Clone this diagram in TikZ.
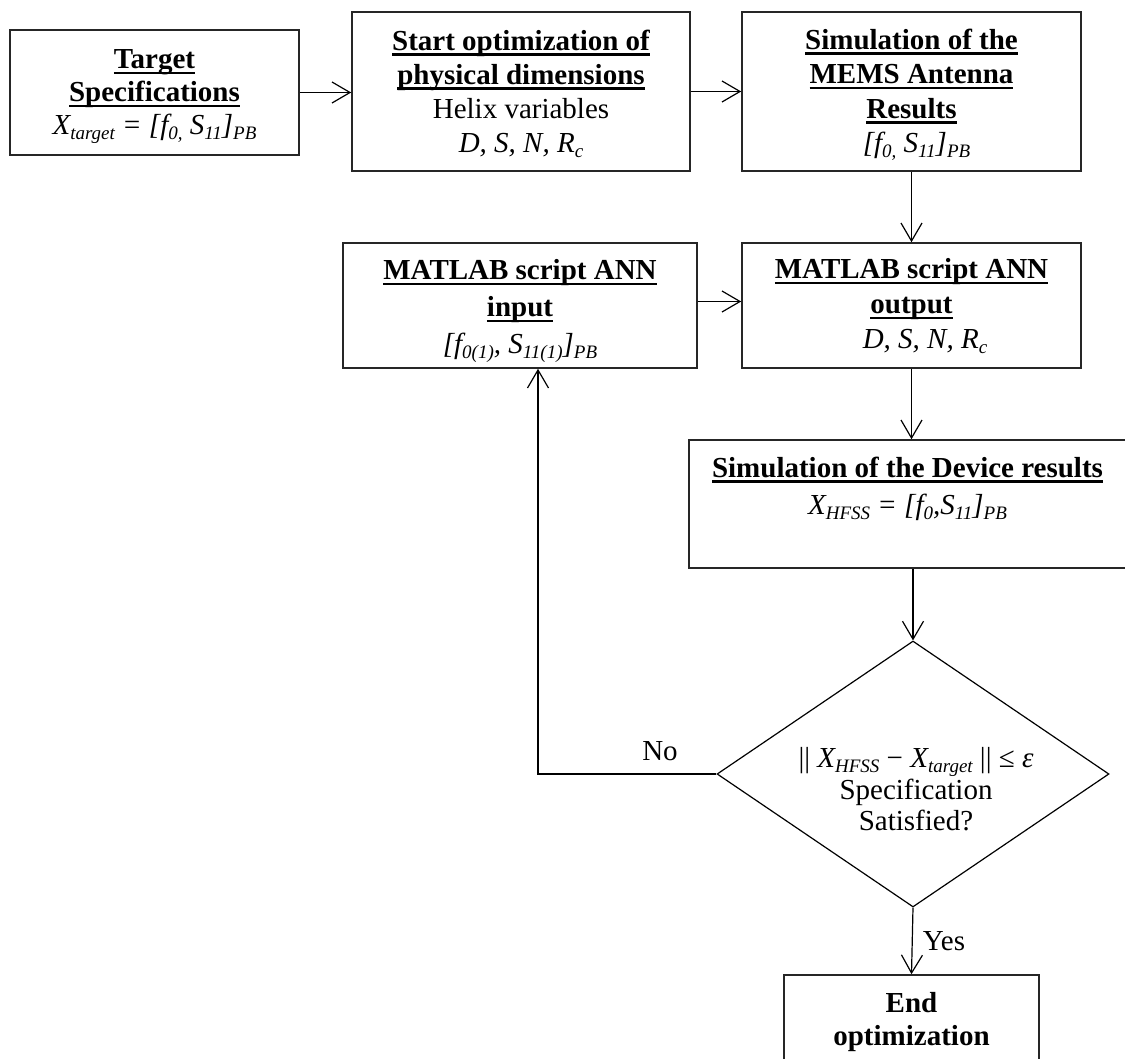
\documentclass[tikz,border=0pt]{standalone}
\usepackage{fontspec}
\setmainfont{Liberation Serif}
\usetikzlibrary{arrows.meta,shapes.geometric}
\newcommand{\uln}[1]{\setbox0=\hbox{#1}\rlap{\rule[-5.5pt]{\wd0}{2.3pt}}\box0}
\newcommand{\mysub}[1]{\raisebox{-5pt}{\fontsize{19}{20}\selectfont #1}}
\tikzset{
  box/.style={draw=black!85, line width=1.6pt, inner sep=0pt},
  txt/.style={align=center, inner sep=0pt, anchor=north},
  lbl/.style={inner sep=0pt, anchor=base, font=\fontsize{29}{34}\selectfont},
  arr/.style={line width=1.2pt, -{Straight Barb[length=18pt,width=21pt,line width=1.2pt]}},
}
\begin{document}
\begin{tikzpicture}[x=1pt,y={(0pt,-1pt)}]
\useasboundingbox (0,0) rectangle (1125,1059);
\clip (0,0) rectangle (1125,1059);

% boxes
\node[box, minimum width=289pt, minimum height=125pt] (b1) at (154.5,92.5) {};
\node[box, minimum width=338pt, minimum height=159pt] (b2) at (521,91.5) {};
\node[box, minimum width=339pt, minimum height=159pt] (b3) at (911.5,91.5) {};
\node[box, minimum width=354pt, minimum height=125pt] (b4) at (520,305.5) {};
\node[box, minimum width=339pt, minimum height=125pt] (b5) at (911.5,305.5) {};
\node[box, minimum width=437pt, minimum height=128pt] (b6) at (907.5,504) {};
\node[box, minimum width=255pt, minimum height=100pt] (b7) at (911.5,1025) {};
\node[draw, diamond, line width=1.2pt, inner sep=0pt, minimum width=392pt, minimum height=266pt] (dec) at (913,774) {};

% texts
\node[txt, font=\fontsize{29}{33}\selectfont] (t1) at (154.5,49.5)
  {\textbf{\uln{Target}}\\ \textbf{\uln{Specifications}}\\
   \textit{X\mysub{target} = [f\mysub{0,} S\mysub{11}]\mysub{PB}}};
\node[txt, font=\fontsize{29}{34}\selectfont] (t2) at (521,29.5)
  {\textbf{\uln{Start optimization of}}\\ \textbf{\uln{physical dimensions}}\\
   Helix variables\\ \textit{D, S, N, R\mysub{c}}};
\node[txt, font=\fontsize{29}{34.5}\selectfont] (t3) at (911.5,28.5)
  {\textbf{\uln{Simulation of the}}\\ \textbf{\uln{MEMS Antenna}}\\
   \textbf{\uln{Results}}\\ \hspace*{10pt}\textit{[f\mysub{0,} S\mysub{11}]\mysub{PB}}};
\node[txt, font=\fontsize{29}{37}\selectfont] (t4) at (520,259.5)
  {\textbf{\uln{MATLAB script ANN}}\\ \textbf{\uln{input}}\\
   \textit{[f\mysub{0(1)}, S\mysub{11(1)}]\mysub{PB}}};
\node[txt, font=\fontsize{29}{35}\selectfont] (t5) at (911.5,258.5)
  {\textbf{\uln{MATLAB script ANN}}\\ \textbf{\uln{output}}\\
   \hspace*{27pt}\textit{D, S, N, R\mysub{c}}};
\node[txt, font=\fontsize{29}{37}\selectfont] (t6) at (907.5,456.5)
  {\textbf{\uln{Simulation of the Device results}}\\
   \textit{X\mysub{HFSS} = [f\mysub{0},S\mysub{11}]\mysub{PB}}};
\node[txt, font=\fontsize{29}{31.5}\selectfont] (tq) at (916,747.5)
  {|| \textit{X\mysub{HFSS}} − \textit{X\mysub{target}} || ≤ \textit{ε}\\
   Specification\\ Satisfied?};
\node[txt, font=\fontsize{29}{33}\selectfont] (t7) at (911.5,992.5)
  {\textbf{End}\\ \textbf{optimization}};

% connectors
\draw[arr] (b1.east) -- (b1.east -| b2.west);
\draw[arr] (b2.east) -- (b3.west);
\draw[arr] (b3.south) -- (b5.north);
\draw[arr] ([yshift=4pt]b4.east) -- ([yshift=4pt]b5.west);
\draw[arr] (b5.south) -- (b5.south |- b6.north);
\draw[arr] (b6.south -| dec.north) -- (dec.north);
\draw[arr] (dec.west) -| ([xshift=18pt]b4.south);
\draw[arr] (dec.south) -- (b7.north);

\node[lbl] (no) at (660,760) {No};
\node[lbl] (yes) at (944,950) {Yes};
\end{tikzpicture}
\end{document}
